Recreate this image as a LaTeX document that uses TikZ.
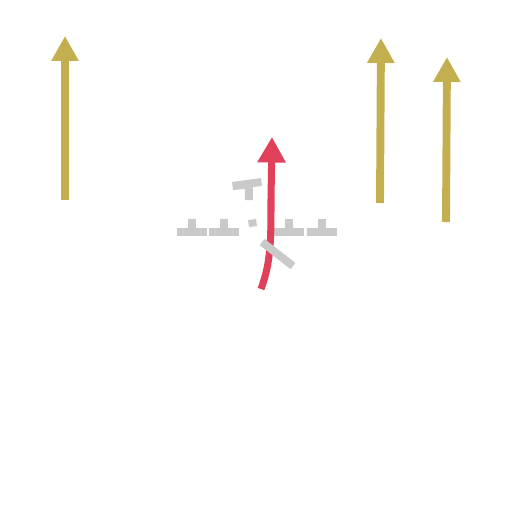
\documentclass[tikz,border=0pt]{standalone}
\usetikzlibrary{arrows.meta}
\definecolor{goldarrow}{HTML}{C4AF50}
\definecolor{redarrow}{HTML}{E0405A}
\definecolor{wallgray}{HTML}{C9C9C9}
\tikzset{
  goldvec/.style={draw=goldarrow, line width=4.5pt, -{Triangle[width=14.7pt,length=14.2pt]}},
  redvec/.style={draw=redarrow, line width=4pt, -{Triangle[width=15.3pt,length=14.5pt]}},
  wall/.style={fill=wallgray},
}
\begin{document}
\begin{tikzpicture}[x=0.02cm,y=-0.02cm]
        \useasboundingbox (0,0) rectangle (512,512);

        % Gold arrows
        \draw[goldvec] (65,200) -- (65,36);
        \draw[goldvec] (380,203) -- (381,38);
        \draw[goldvec] (446,222) -- (447,57);

        % Dashed wall with ticks
        \foreach \x in {177,209,274,307} {
            \fill[wall] (\x,228) rectangle ++(30,8);
            \fill[wall] (\x+11,219) rectangle ++(8,9);
        }

        % Red arrow
        \draw[redvec] (261,289) .. controls (271,262) and (271,240) .. (271,200) -- (272,137);

        % Broken pieces
        \fill[wall] (248,220) -- (256,219) -- (257,226) -- (249,227) -- cycle;
        \fill[wall] (232,182) -- (261,178) -- (262,186) -- (253,187)
                 -- (253,200) -- (245,200) -- (245,189) -- (233,190) -- cycle;
        \draw[wallgray, line width=4.5pt] (262,242) -- (293,266);
    \end{tikzpicture}
\end{document}
